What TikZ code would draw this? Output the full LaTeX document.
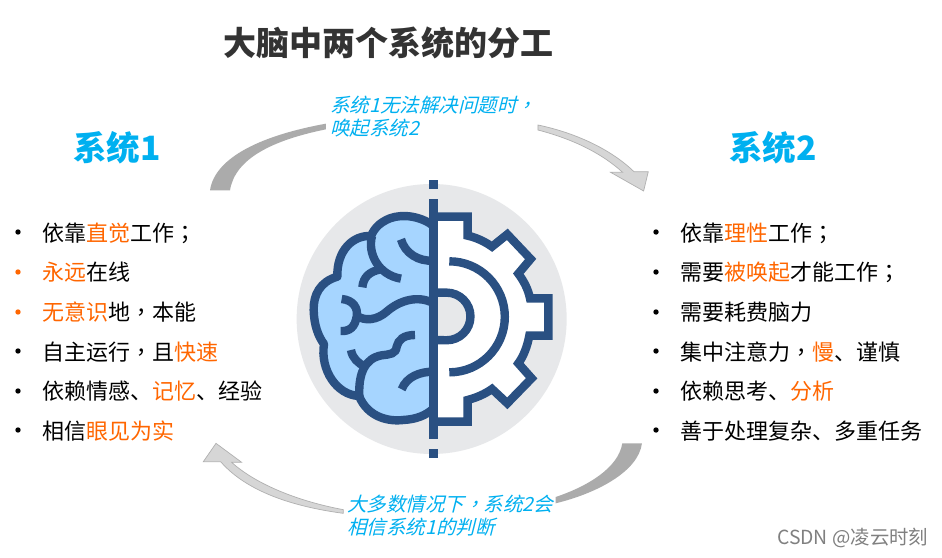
\documentclass[tikz,border=0pt]{standalone}
\usepackage{fontspec}
\setmainfont{Noto Sans CJK SC}
\newfontfamily\slantcjk[FakeSlant=0.25]{Noto Sans CJK SC}
\newfontfamily\midpunct{Noto Sans CJK TC}
\newfontfamily\midpunctslant[FakeSlant=0.25]{Noto Sans CJK TC}
\usetikzlibrary{calc}
\definecolor{sysblue}{HTML}{00B0F0}
\definecolor{hot}{HTML}{FF6600}
\definecolor{navy}{HTML}{2A5082}
\definecolor{brainfill}{HTML}{A6D5FF}
\definecolor{disc}{HTML}{E7E8EA}
\definecolor{swooshdark}{HTML}{ABABAB}
\definecolor{swooshlight}{HTML}{D6D6D6}
\definecolor{swooshedge}{HTML}{B0B0B0}
\newcommand{\hl}[1]{\textcolor{hot}{#1}}
\newcommand{\mc}[1]{{\midpunct #1}}
\newcommand{\mcs}[1]{{\midpunctslant #1}}
\tikzset{
  titletext/.style={anchor=west,inner sep=0pt,text=black!80,font=\fontsize{33}{36}\selectfont\bfseries},
  systext/.style={anchor=west,inner sep=0pt,text=sysblue,font=\fontsize{33.5}{36}\selectfont\bfseries},
  itemtext/.style={anchor=west,inner sep=0pt,text=black,font=\fontsize{22}{24}\selectfont},
  bullet/.style={circle,fill=#1,inner sep=0pt,minimum size=5.4pt},
  notetext/.style={anchor=west,inner sep=0pt,align=left,text=sysblue,font=\fontsize{19.5}{23}\selectfont\slantcjk},
  markstext/.style={anchor=west,inner sep=0pt,text=black!50,font=\fontsize{19.4}{22}\selectfont},
  iconline/.style={draw=navy,line width=8.4pt,line join=miter,line cap=butt},
  swdark/.style={fill=swooshdark,draw=none},
  swlight/.style={fill=swooshlight,draw=swooshedge,line width=0.7pt,line join=miter},
}
\begin{document}
\begin{tikzpicture}[x=1pt,y=-1pt]
\useasboundingbox[fill=white] (0,0) rectangle (942,557);

\node[titletext] (title) at (223,43) {大脑中两个系统的分工};
\node[systext] (sysA) at (73,148) {系统1};
\node[systext] (sysB) at (729,148) {系统2};

% left list
\foreach \y/\c in {232/black,272/hot,312/hot,351/black,391/black,430/black}
  \node[bullet=\c] at (18,\y) {};
\node[itemtext] (a1) at (42,233) {依靠\hl{直觉}工作\mc{；}};
\node[itemtext] (a2) at (42,272) {\hl{永远}在线};
\node[itemtext] (a3) at (42,312) {\hl{无意识}地\mc{，}本能};
\node[itemtext] (a4) at (42,352) {自主运行\mc{，}且\hl{快速}};
\node[itemtext] (a5) at (42,391) {依赖情感、\hl{记忆}、经验};
\node[itemtext] (a6) at (42,431) {相信\hl{眼见为实}};

% right list
\foreach \y in {232,272,312,351,391,430}
  \node[bullet=black] at (656,\y) {};
\node[itemtext] (b1) at (680,233) {依靠\hl{理性}工作\mc{；}};
\node[itemtext] (b2) at (680,272) {需要\hl{被唤起}才能工作\mc{；}};
\node[itemtext] (b3) at (680,312) {需要耗费脑力};
\node[itemtext] (b4) at (680,352) {集中注意力\mc{，}\hl{慢}、谨慎};
\node[itemtext] (b5) at (680,391) {依赖思考、\hl{分析}};
\node[itemtext] (b6) at (680,431) {善于处理复杂、多重任务};

% swooshes, top
\begin{scope}[shift={(200,85)},x=0.3333pt,y=-0.3333pt]
  \path[swdark] (30,316) .. controls (45,215) and (190,150) .. (378,116)
     -- (378,133) .. controls (220,165) and (105,220) .. (90,316) -- cycle;
  \path[swlight] (1014,120) .. controls (1120,142) and (1230,190) .. (1302,260)
     -- (1345,260) -- (1331,318) -- (1232,262) -- (1268,262)
     .. controls (1200,200) and (1110,160) .. (1014,135) -- cycle;
\end{scope}
% swooshes, bottom
\begin{scope}[shift={(190,435)},x=0.3333pt,y=-0.3333pt]
  \path[swdark] (1297,25) -- (1356,25) .. controls (1345,110) and (1220,175) .. (1097,205)
     -- (1097,186) .. controls (1190,155) and (1285,100) .. (1297,25) -- cycle;
  \path[swlight] (78,25) -- (155,82) -- (125,82) .. controls (200,150) and (330,200) .. (460,224)
     -- (460,235) .. controls (310,215) and (170,170) .. (92,80) -- (40,80) -- cycle;
\end{scope}

\node[notetext] (noteA) at (330,117) {系统1无法解决问题时\mcs{，}\\唤起系统2};
\node[notetext] (noteB) at (347,516) {大多数情况下\mcs{，}系统2会\\相信系统1的判断};
\node[markstext] (mark) at (777,538) {CSDN @凌云时刻};

% icon
\begin{scope}[shift={(290,170)},x=0.3333pt,y=-0.3333pt]
  \fill[disc] (425,447) circle[radius=135pt];
  % brain
  \path[fill=brainfill,iconline,line join=round]
    (431,168) .. controls (395,140) and (340,130) .. (300,145)
    .. controls (275,155) and (255,170) .. (243,198)
    .. controls (190,195) and (140,240) .. (142,320)
    .. controls (90,335) and (70,375) .. (71,420)
    .. controls (72,465) and (85,500) .. (102,522)
    .. controls (90,600) and (140,675) .. (207,678)
    .. controls (235,745) and (300,755) .. (340,750)
    .. controls (380,748) and (410,735) .. (431,715) -- cycle;
  \draw[iconline,line cap=butt] (246,198) .. controls (232,250) and (265,315) .. (333,326);
  \draw[iconline] (217,352) .. controls (220,320) and (240,305) .. (268,299);
  \draw[iconline] (333,208) .. controls (345,250) and (385,275) .. (431,272);
  \draw[iconline] (431,400) .. controls (385,375) and (330,390) .. (290,425)
     .. controls (262,450) and (225,455) .. (200,437);
  \draw[iconline] (155,387) .. controls (190,390) and (205,415) .. (200,440)
     .. controls (195,470) and (180,485) .. (152,483);
  \draw[iconline] (375,495) .. controls (340,495) and (325,510) .. (320,530)
     .. controls (318,552) and (300,553) .. (275,556)
     .. controls (225,565) and (205,610) .. (208,678);
  \draw[iconline] (183,540) .. controls (187,565) and (205,580) .. (225,590);
  \draw[iconline] (335,658) .. controls (350,620) and (390,605) .. (431,605);
  % gear
  \path[fill=white,iconline]
    (431,140) -- (533,140) -- (533,197)
    .. controls (560,203) and (585,215) .. (606,230)
    -- (652,193) -- (722,267) -- (685,311)
    .. controls (703,335) and (715,360) .. (720,385)
    -- (775,385) -- (775,497) -- (718,497)
    .. controls (712,530) and (700,560) .. (685,580)
    -- (725,625) -- (652,700) -- (606,657)
    .. controls (585,672) and (560,683) .. (533,690)
    -- (533,755) -- (431,755);
  \draw[iconline] (478,274) arc[start angle=90,end angle=-90,radius=55.5pt];
  \path[fill=disc,iconline] (431,368) -- (470,368) arc[start angle=90,end angle=-90,radius=23.8pt] -- (431,510);
  % axis
  \foreach \a/\b in {30/58,88/808,838/865}
    \fill[navy] (417,\a) rectangle (445,\b);
\end{scope}
\end{tikzpicture}
\end{document}
